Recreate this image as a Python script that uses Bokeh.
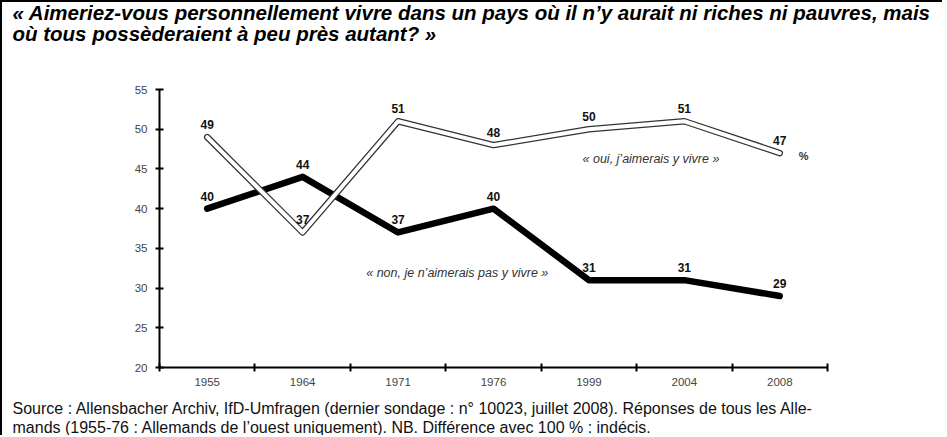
from bokeh.plotting import figure
from bokeh.models import FixedTicker, Label, Range1d, ColumnDataSource, Title
from bokeh.core.properties import value
from bokeh.embed import file_html
from bokeh.resources import INLINE

years = ["1955", "1964", "1971", "1976", "1999", "2004", "2008"]
oui = [49, 37, 51, 48, 50, 51, 47]
non = [40, 44, 37, 40, 31, 31, 29]
y_ticks = [20, 25, 30, 35, 40, 45, 50, 55]

title_lines = [
    "« Aimeriez-vous personnellement vivre dans un pays où il n’y aurait ni riches ni pauvres, mais",
    "où tous possèderaient à peu près autant? »",
]
source_lines = [
    "Source : Allensbacher Archiv, IfD-Umfragen (dernier sondage : n° 10023, juillet 2008). Réponses de tous les Alle-",
    "mands (1955-76 : Allemands de l’ouest uniquement). NB. Différence avec 100 % : indécis.",
]
label_oui = "« oui, j’aimerais y vivre »"
label_non = "« non, je n’aimerais pas y vivre »"

FONT = "Liberation Sans"
xs = [i + 0.5 for i in range(len(years))]
src = ColumnDataSource(dict(x=xs, oui=oui, non=non,
                            oui_t=[str(v) for v in oui], non_t=[str(v) for v in non]))

p = figure(frame_width=668, frame_height=278, output_backend="svg", toolbar_location=None,
           x_range=Range1d(0, len(years)), y_range=Range1d(20, 55),
           min_border_left=157, min_border_right=115, min_border_top=0, min_border_bottom=0)
p.styles = {"border-top": "2px solid #000", "border-left": "2px solid #000"}
p.outline_line_color = None
p.xgrid.visible = False
p.ygrid.visible = False
p.background_fill_color = "white"
p.border_fill_color = "white"

# axes
xa = p.xaxis[0]
xa.ticker = FixedTicker(ticks=xs, minor_ticks=list(range(len(years) + 1)))
xa.major_label_overrides = {x: y for x, y in zip(xs, years)}
xa.major_tick_in = 0
xa.major_tick_out = 0
xa.minor_tick_in = 4
xa.minor_tick_out = 4
xa.minor_tick_line_width = 2
xa.minor_tick_line_color = "#000"
xa.axis_line_width = 2
xa.axis_line_color = "#000"
xa.major_label_text_font = FONT
xa.major_label_text_font_size = "11.5px"
xa.major_label_text_color = "#444"
xa.major_label_standoff = 6

ya = p.yaxis[0]
ya.ticker = FixedTicker(ticks=y_ticks, minor_ticks=[])
ya.major_tick_in = 4
ya.major_tick_out = 4
ya.major_tick_line_width = 2
ya.major_tick_line_color = "#000"
ya.axis_line_width = 2
ya.axis_line_color = "#000"
ya.major_label_text_font = FONT
ya.major_label_text_font_size = "11.5px"
ya.major_label_text_color = "#444"
ya.major_label_standoff = 8

# lines
p.line("x", "non", source=src, line_width=6.5, line_color="#000", line_join="round", line_cap="round")
p.line("x", "oui", source=src, line_width=6.5, line_color="#333", line_join="round", line_cap="round")
p.line("x", "oui", source=src, line_width=4, line_color="#fff", line_join="round", line_cap="round")

# value labels
for col, t in (("oui", "oui_t"), ("non", "non_t")):
    p.text("x", col, text=t, source=src, text_font=value(FONT), text_font_size="12px",
           text_font_style="bold", text_color="#111", text_align="center",
           text_baseline="alphabetic", y_offset=-12.5)

# series annotations
p.add_layout(Label(x=5.15, y=46.2, text=label_oui, text_font=FONT, text_font_size="12.5px",
                   text_font_style="italic", text_color="#333", text_align="center",
                   text_baseline="middle"))
p.add_layout(Label(x=6.75, y=46.6, text="%", text_font=FONT, text_font_size="11px",
                   text_font_style="bold", text_color="#333", text_align="center",
                   text_baseline="middle"))
p.add_layout(Label(x=3.12, y=31.95, text=label_non, text_font=FONT, text_font_size="12.5px",
                   text_font_style="italic", text_color="#333", text_align="center",
                   text_baseline="middle"))

# title: panels "above" stack outward from the frame
p.add_layout(Title(text=" ", text_font_size="1px", standoff=42), "above")
p.add_layout(Title(text=title_lines[1], align="left", offset=-147, standoff=0,
                   text_font=FONT, text_font_size="20.5px", text_font_style="bold italic",
                   text_color="#000"), "above")
p.add_layout(Title(text=title_lines[0], align="left", offset=-147, standoff=-8,
                   text_font=FONT, text_font_size="20.5px", text_font_style="bold italic",
                   text_color="#000"), "above")

# source: panels "below" stack outward from the x axis
p.add_layout(Title(text=" ", text_font_size="1px", standoff=6), "below")
p.add_layout(Title(text=source_lines[0], align="left", offset=-147, standoff=0,
                   text_font=FONT, text_font_size="16px", text_font_style="normal",
                   text_color="#111"), "below")
p.add_layout(Title(text=source_lines[1], align="left", offset=-147, standoff=0,
                   text_font=FONT, text_font_size="16px", text_font_style="normal",
                   text_color="#111"), "below")

open("out.html", "w").write(file_html(p, INLINE))
